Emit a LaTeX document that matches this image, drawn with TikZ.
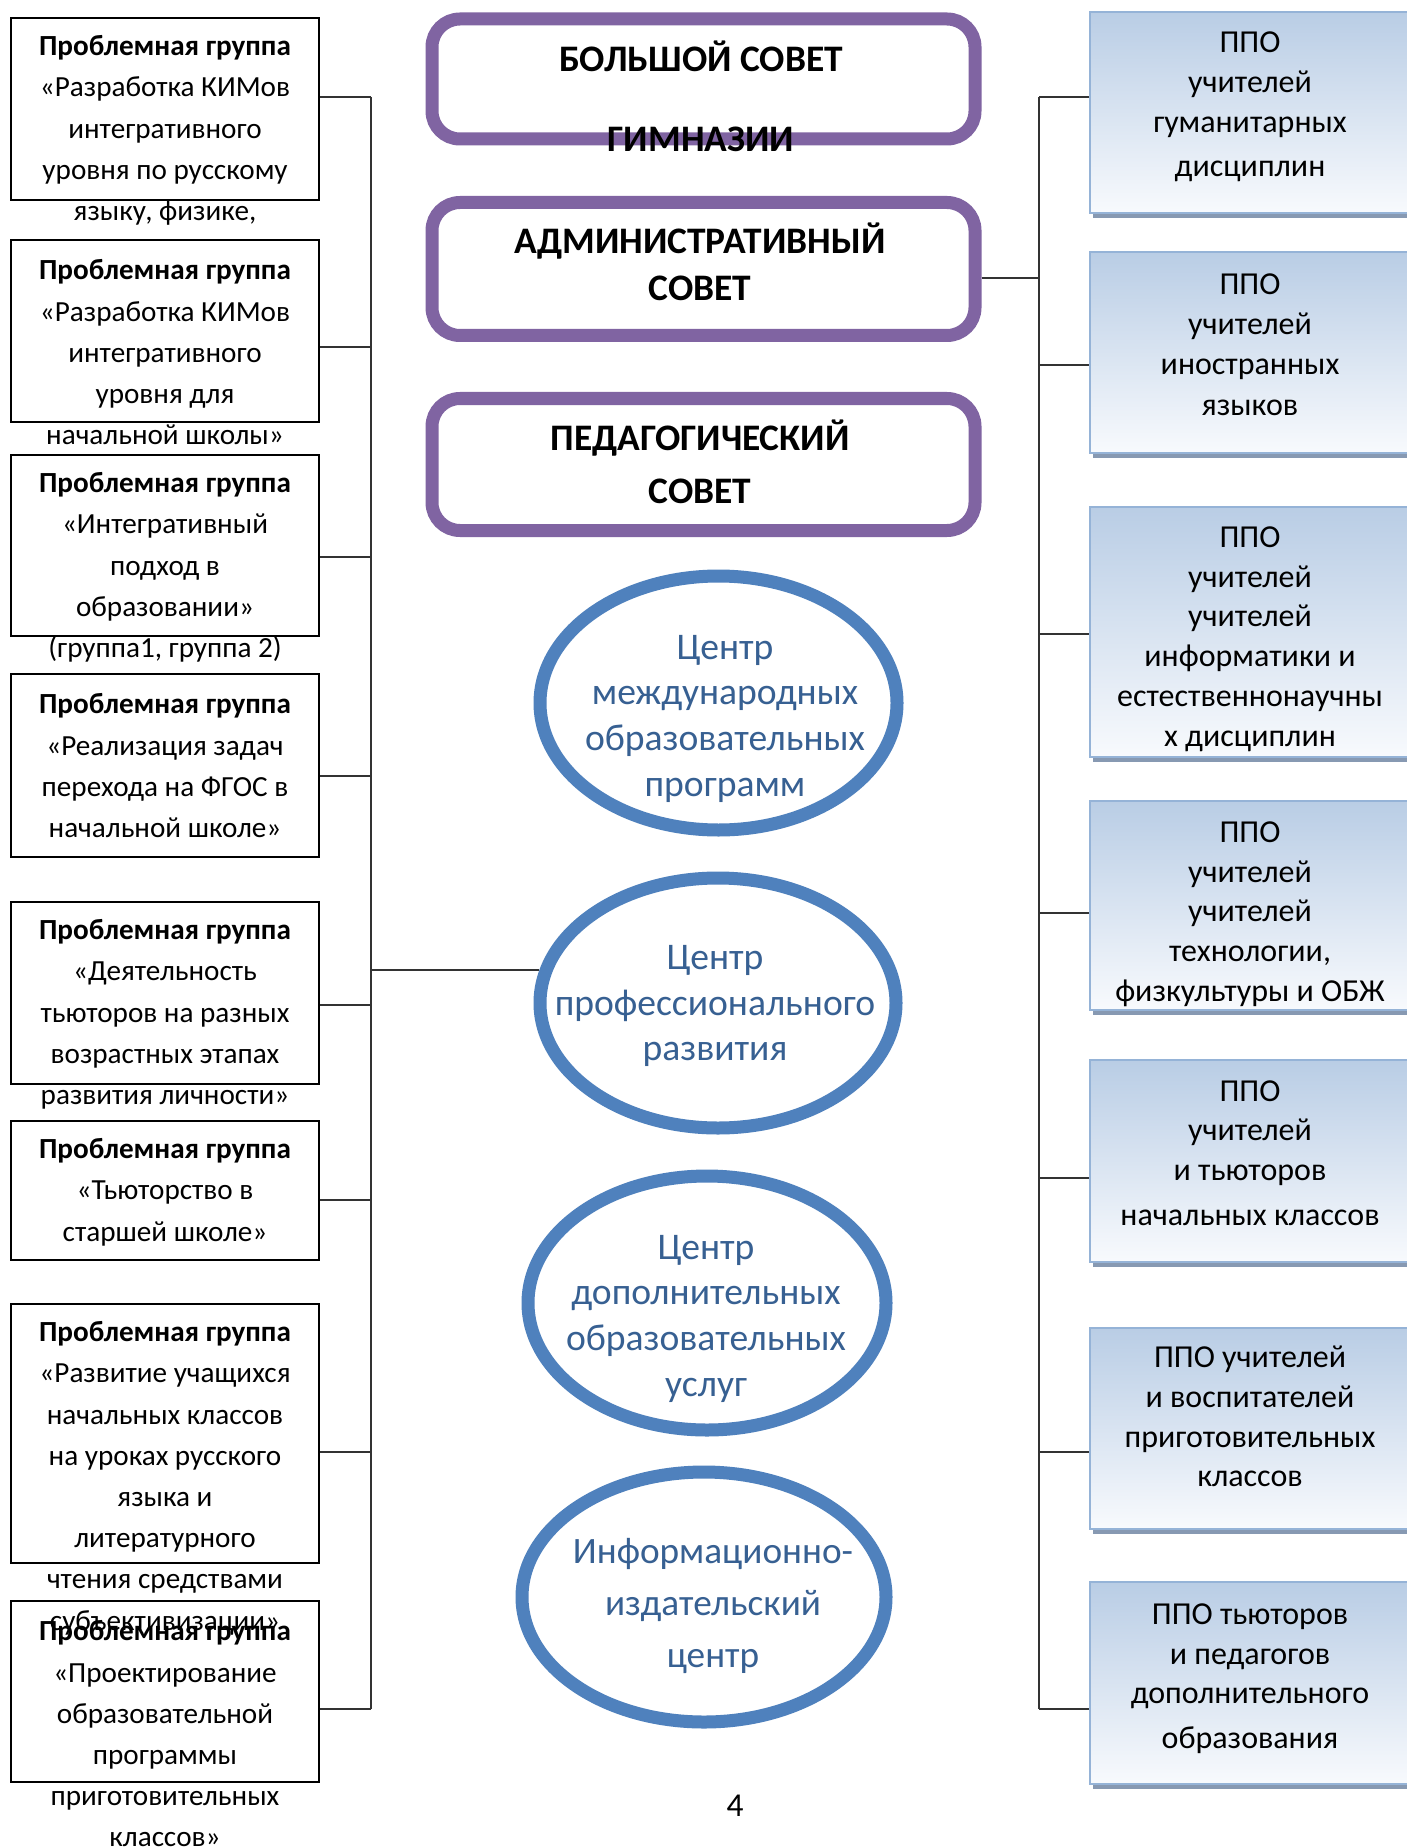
\documentclass[tikz,border=0pt]{standalone}
\usepackage{fontspec}
\setmainfont{Carlito}
\usetikzlibrary{shapes.geometric,shadows}

\definecolor{sovet}{HTML}{8064A2}
\definecolor{centr}{HTML}{4F81BD}
\definecolor{centrtext}{HTML}{376092}
\definecolor{ppoedge}{HTML}{95B3D7}
\definecolor{ppotop}{HTML}{B9CDE5}
\definecolor{ppobottom}{HTML}{F8FAFD}
\definecolor{pposhadow}{HTML}{7B8FAA}

\begin{document}
\begin{tikzpicture}[
    group/.style={
        rectangle,
        draw=black,
        line width=0.6pt,
        minimum width=3.08cm,
        inner sep=0pt
    },
    grouptext/.style={
        align=center,
        font=\fontsize{8.3}{11.72}\selectfont
    },
    sovetbox/.style={
        rectangle,
        rounded corners=0.28cm,
        draw=sovet,
        line width=0.13cm,
        minimum width=5.43cm,
        inner sep=0pt
    },
    sovettext/.style={
        align=center,
        font=\bfseries\fontsize{10.65}{13.4}\selectfont
    },
    centre/.style={
        ellipse,
        draw=centr,
        line width=0.13cm,
        inner sep=0pt
    },
    centretext/.style={
        align=center,
        text=centrtext,
        font=\fontsize{10.7}{13}\selectfont
    },
    ppo/.style={
        rectangle,
        draw=ppoedge,
        line width=0.6pt,
        top color=ppotop,
        bottom color=ppobottom,
        minimum width=3.2cm,
        inner sep=0pt,
        drop shadow={shadow xshift=0.03cm, shadow yshift=-0.05cm,
            fill=pposhadow, opacity=0.9}
    },
    ppotext/.style={
        align=center,
        font=\fontsize{9.1}{11.3}\selectfont
    },
    conn/.style={
        draw=black!80,
        line width=0.45pt
    }
]

\path[use as bounding box, fill=white] (0,0) rectangle (14.07,-18.48);

% Problem groups (left)
\node[group, minimum height=1.82cm] (l1) at (1.65,-1.09) {};
\node[grouptext] (l1t) at (1.65,-1.304) {\textbf{Проблемная группа}\\
    «Разработка КИМов\\интегративного\\уровня по русскому\\языку, физике,};

\node[group, minimum height=1.82cm] (l2) at (1.65,-3.31) {};
\node[grouptext] (l2t) at (1.65,-3.524) {\textbf{Проблемная группа}\\
    «Разработка КИМов\\интегративного\\уровня для\\начальной школы»};

\node[group, minimum height=1.81cm] (l3) at (1.65,-5.455) {};
\node[grouptext] (l3t) at (1.65,-5.674) {\textbf{Проблемная группа}\\
    «Интегративный\\подход в\\образовании»\\(группа1, группа 2)};

\node[group, minimum height=1.83cm] (l4) at (1.65,-7.655) {};
\node[grouptext] (l4t) at (1.65,-7.658) {\textbf{Проблемная группа}\\
    «Реализация задач\\перехода на ФГОС в\\начальной школе»};

\node[group, minimum height=1.82cm] (l5) at (1.65,-9.93) {};
\node[grouptext] (l5t) at (1.65,-10.144) {\textbf{Проблемная группа}\\
    «Деятельность\\тьюторов на разных\\возрастных этапах\\развития личности»};

\node[group, minimum height=1.39cm] (l6) at (1.65,-11.905) {};
\node[grouptext] (l6t) at (1.65,-11.922) {\textbf{Проблемная группа}\\
    «Тьюторство в\\старшей школе»};

\node[group, minimum height=2.59cm] (l7) at (1.65,-14.335) {};
\node[grouptext] (l7t) at (1.65,-14.782) {\textbf{Проблемная группа}\\
    «Развитие учащихся\\начальных классов\\на уроках русского\\языка и\\литературного\\
    чтения средствами\\субъективизации»};

\node[group, minimum height=1.81cm] (l8) at (1.65,-16.915) {};
\node[grouptext] (l8t) at (1.65,-17.34) {\textbf{Проблемная группа}\\
    «Проектирование\\образовательной\\программы\\приготовительных\\классов»};

% Councils (centre)
\node[sovetbox, minimum height=1.20cm] (bolshoy) at (7.035,-0.79) {};
\node[sovettext, font=\bfseries\fontsize{10.65}{22.8}\selectfont] (bolshoyt) at (7.01,-0.965)
    {БОЛЬШОЙ СОВЕТ\\ГИМНАЗИИ};

\node[sovetbox, minimum height=1.33cm] (admin) at (7.035,-2.69) {};
\node[sovettext] (admint) at (7.00,-2.615) {АДМИНИСТРАТИВНЫЙ\\СОВЕТ};

\node[sovetbox, minimum height=1.32cm] (pedsovet) at (7.035,-4.645) {};
\node[sovettext, font=\bfseries\fontsize{10.65}{15.1}\selectfont] (pedsovett) at (7.00,-4.62)
    {ПЕДАГОГИЧЕСКИЙ\\СОВЕТ};

% Centres (ellipses)
\node[centre, minimum width=3.57cm, minimum height=2.54cm] (e1) at (7.185,-7.03) {};
\node[centretext] (e1t) at (7.25,-7.185) {Центр\\международных\\образовательных\\программ};

\node[centre, minimum width=3.56cm, minimum height=2.50cm] (e2) at (7.18,-10.03) {};
\node[centretext] (e2t) at (7.15,-10.06) {Центр\\профессионального\\развития};

\node[centre, minimum width=3.58cm, minimum height=2.54cm] (e3) at (7.07,-13.03) {};
\node[centretext] (e3t) at (7.06,-13.185) {Центр\\дополнительных\\образовательных\\услуг};

\node[centre, minimum width=3.64cm, minimum height=2.50cm] (e4) at (7.04,-15.97) {};
\node[centretext, font=\fontsize{10.6}{14.9}\selectfont] (e4t) at (7.13,-16.06)
    {Информационно-\\издательский\\центр};

% PPO (right)
\node[ppo, minimum height=2.01cm] (r1) at (12.50,-1.125) {};
\node[ppotext] (r1t) at (12.50,-1.07) {ППО\\учителей\\гуманитарных\\[1.4pt]дисциплин};

\node[ppo, minimum height=2.01cm] (r2) at (12.50,-3.525) {};
\node[ppotext] (r2t) at (12.50,-3.45) {ППО\\учителей\\иностранных\\[0.6pt]языков};

\node[ppo, minimum height=2.50cm] (r3) at (12.50,-6.32) {};
\node[ppotext] (r3t) at (12.50,-6.39) {ППО\\учителей\\учителей\\информатики и\\
    естественнонаучны\\х дисциплин};

\node[ppo, minimum height=2.09cm] (r4) at (12.50,-9.055) {};
\node[ppotext] (r4t) at (12.50,-9.14) {ППО\\учителей\\учителей\\технологии,\\
    физкультуры и ОБЖ};

\node[ppo, minimum height=2.02cm] (r5) at (12.50,-11.61) {};
\node[ppotext] (r5t) at (12.50,-11.53) {ППО\\учителей\\и тьюторов\\[1.4pt]начальных классов};

\node[ppo, minimum height=2.01cm] (r6) at (12.50,-14.285) {};
\node[ppotext] (r6t) at (12.50,-14.165) {ППО учителей\\и воспитателей\\приготовительных\\
    классов};

\node[ppo, minimum height=2.02cm] (r7) at (12.50,-16.83) {};
\node[ppotext] (r7t) at (12.50,-16.785) {ППО тьюторов\\и педагогов\\дополнительного\\
    [1.4pt]образования};

% Page number
\node[font=\fontsize{9.5}{11}\selectfont] (pagenum) at (7.35,-18.06) {4};

% Buses
\coordinate (lb1) at (3.71,-0.97);
\coordinate (lb2) at (3.71,-3.47);
\coordinate (lb3) at (3.71,-5.57);
\coordinate (lb4) at (3.71,-7.76);
\coordinate (lbe) at (3.71,-9.70);
\coordinate (lb5) at (3.71,-10.05);
\coordinate (lb6) at (3.71,-12.00);
\coordinate (lb7) at (3.71,-14.52);
\coordinate (lb8) at (3.71,-17.09);

\coordinate (rb1) at (10.39,-0.97);
\coordinate (rba) at (10.39,-2.78);
\coordinate (rb2) at (10.39,-3.65);
\coordinate (rb3) at (10.39,-6.34);
\coordinate (rb4) at (10.39,-9.13);
\coordinate (rb5) at (10.39,-11.78);
\coordinate (rb6) at (10.39,-14.52);
\coordinate (rb7) at (10.39,-17.09);

% Connectors
\draw[conn] (lb1) -- (lb8);
\draw[conn] (lb1 -| l1.east) -- (lb1);
\draw[conn] (lb2 -| l2.east) -- (lb2);
\draw[conn] (lb3 -| l3.east) -- (lb3);
\draw[conn] (lb4 -| l4.east) -- (lb4);
\draw[conn] (lb5 -| l5.east) -- (lb5);
\draw[conn] (lb6 -| l6.east) -- (lb6);
\draw[conn] (lb7 -| l7.east) -- (lb7);
\draw[conn] (lb8 -| l8.east) -- (lb8);
\draw[conn] (lbe) -- (lbe -| e2.170);

\draw[conn] (rb1) -- (rb7);
\draw[conn] (rba -| admin.east) -- (rba);
\draw[conn] (rb1) -- (rb1 -| r1.west);
\draw[conn] (rb2) -- (rb2 -| r2.west);
\draw[conn] (rb3) -- (rb3 -| r3.west);
\draw[conn] (rb4) -- (rb4 -| r4.west);
\draw[conn] (rb5) -- (rb5 -| r5.west);
\draw[conn] (rb6) -- (rb6 -| r6.west);
\draw[conn] (rb7) -- (rb7 -| r7.west);

\end{tikzpicture}
\end{document}
